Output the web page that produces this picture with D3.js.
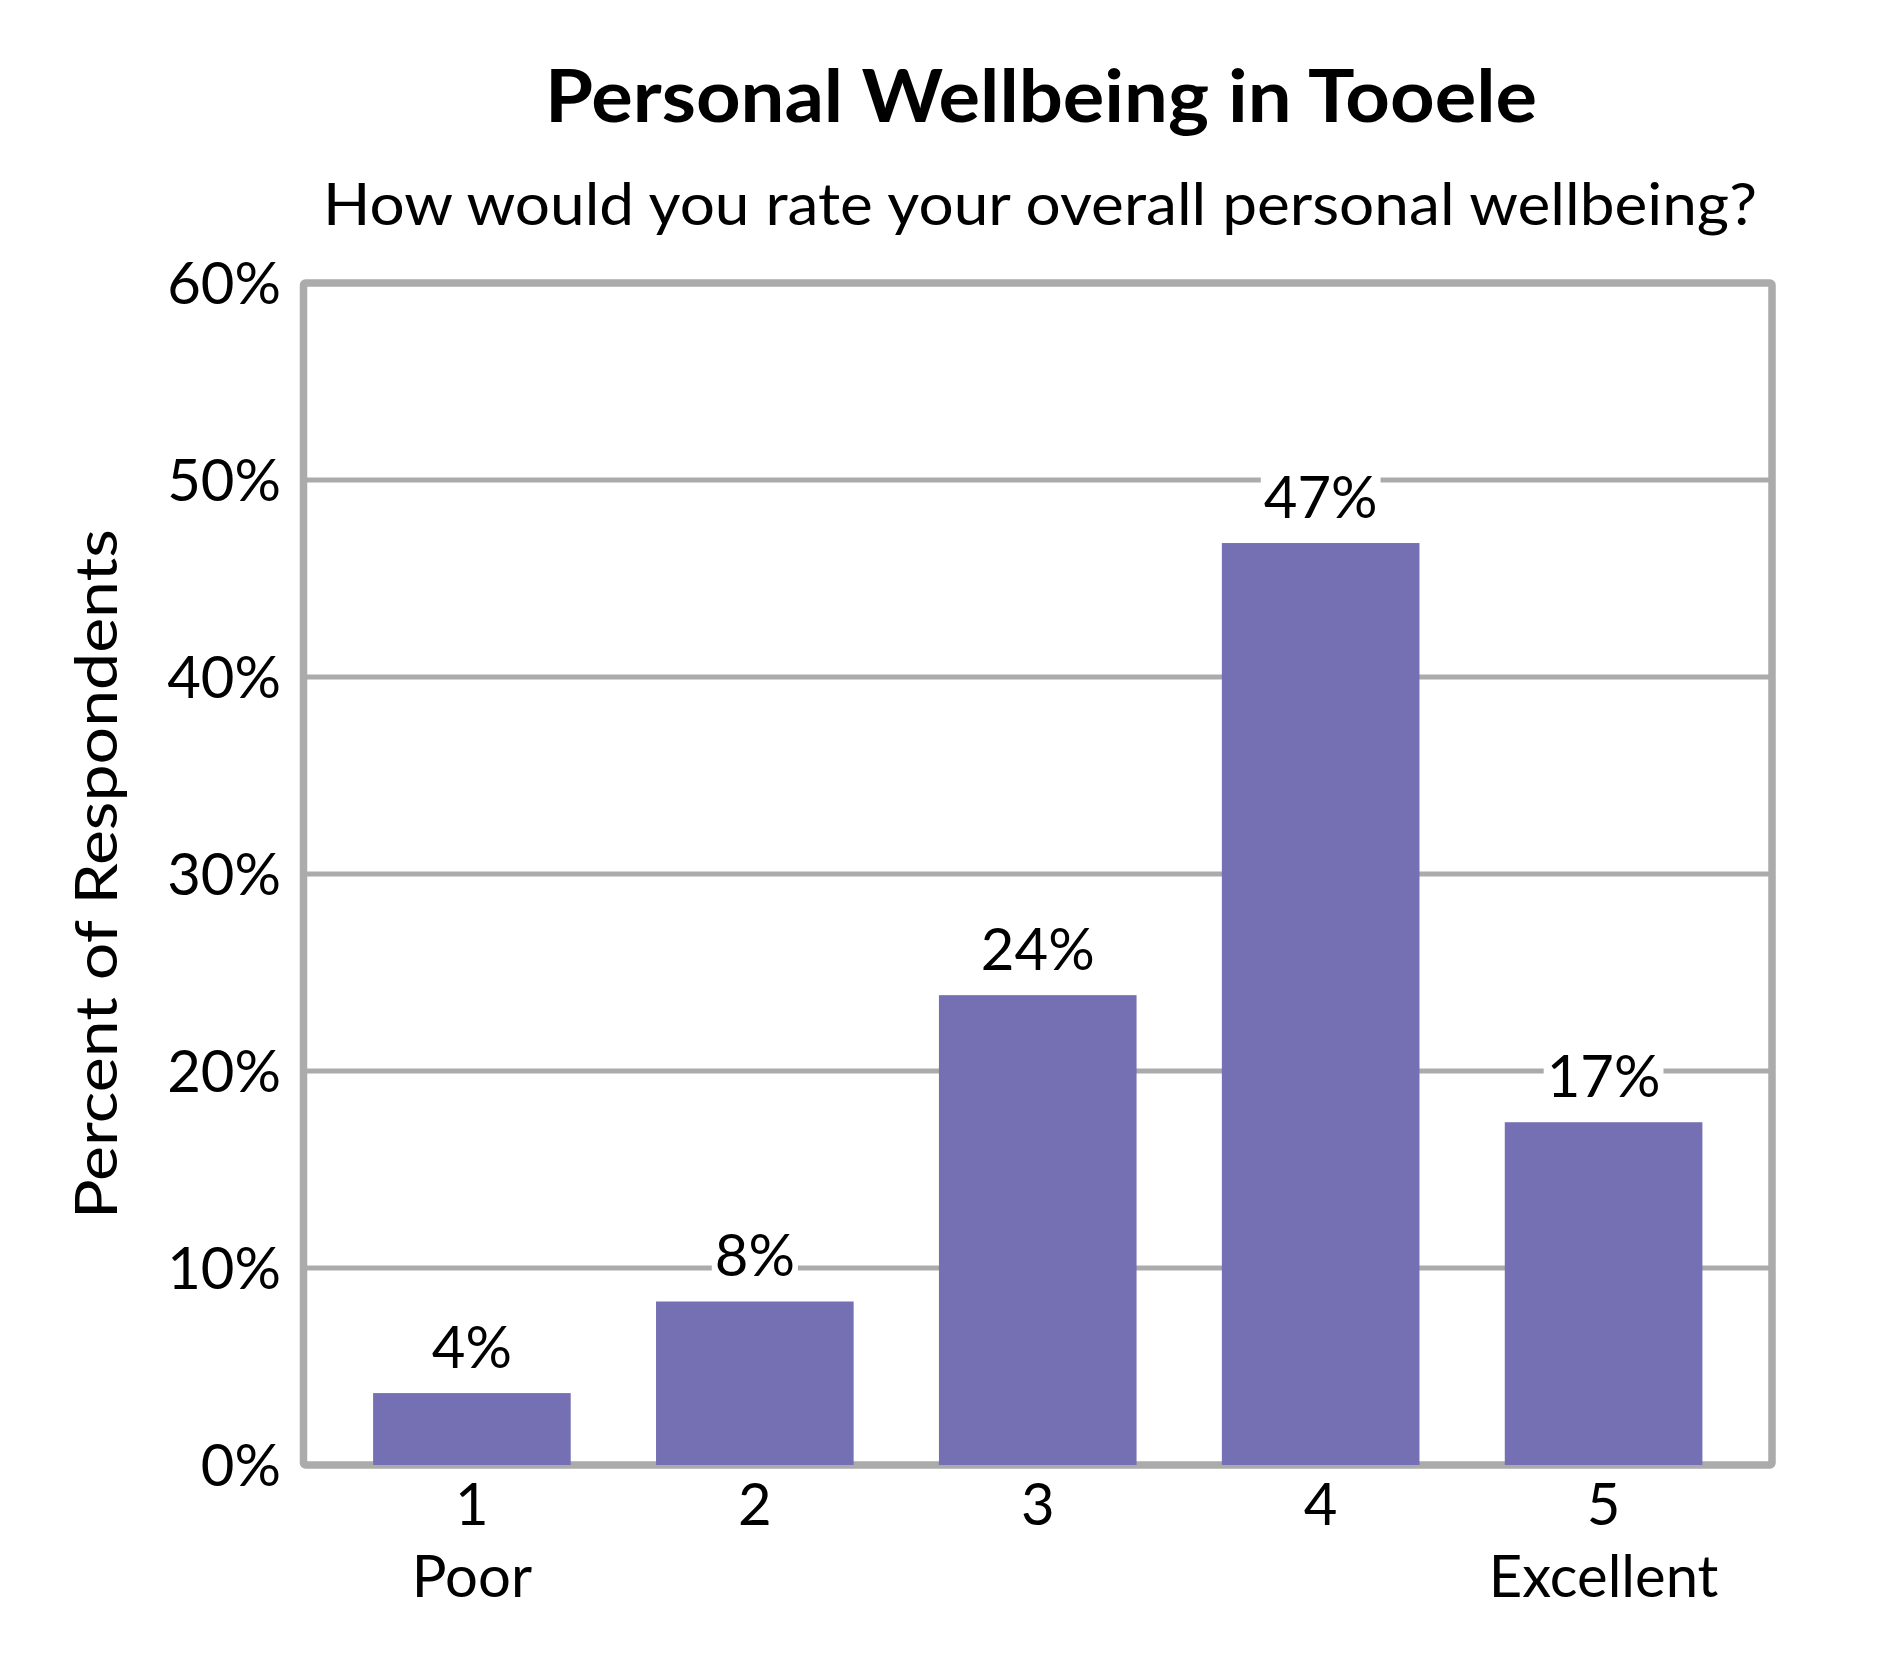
<!DOCTYPE html>
<html>
<head>
<meta charset="utf-8">
<script src="https://cdn.jsdelivr.net/npm/d3@7/dist/d3.min.js"></script>
<style>
  html, body { margin: 0; padding: 0; background: #ffffff; }
  svg { display: block; }
  text { font-family: Lato, "Open Sans", sans-serif; fill: #000; }
</style>
</head>
<body>
<svg id="chart" width="1890" height="1680"></svg>
<script>
// ---- data ----
const categories = ["1", "2", "3", "4", "5"];
const subLabels = ["Poor", "", "", "", "Excellent"];
const values = [3.65, 8.3, 23.85, 46.8, 17.4];
const yTicks = [0, 10, 20, 30, 40, 50, 60];
const titleText = "Personal Wellbeing in Tooele";
const subtitleText = "How would you rate your overall personal wellbeing?";
const yTitleText = "Percent of Respondents";

// ---- layout ----
const W = 1890, H = 1680;
const plot = { left: 303.5, right: 1772, top: 283, bottom: 1465 };
const gridColor = "#ababab";
const barColor = "#7570b3";

const svg = d3.select("#chart");
svg.append("rect").attr("width", W).attr("height", H).attr("fill", "#fff");

const x = d3.scaleBand()
  .domain(categories)
  .range([plot.left, plot.right])
  .paddingInner(0.3015)
  .paddingOuter(0.246);

const y = d3.scaleLinear().domain([0, 60]).range([plot.bottom, plot.top]);

// gridlines
svg.append("g").selectAll("line")
  .data(yTicks.filter(d => d > 0 && d < 60))
  .join("line")
  .attr("x1", plot.left).attr("x2", plot.right)
  .attr("y1", d => y(d)).attr("y2", d => y(d))
  .attr("stroke", gridColor).attr("stroke-width", 5);

// plot border
svg.append("rect")
  .attr("x", plot.left).attr("y", plot.top)
  .attr("width", plot.right - plot.left).attr("height", plot.bottom - plot.top)
  .attr("fill", "none").attr("stroke", gridColor).attr("stroke-width", 7.5)
  .attr("rx", 2).attr("stroke-linejoin", "round");

// bars
svg.append("g").selectAll("rect")
  .data(values)
  .join("rect")
  .attr("x", (d, i) => x(categories[i]))
  .attr("width", x.bandwidth())
  .attr("y", d => y(d))
  .attr("height", d => y(0) - y(d))
  .attr("fill", barColor);

// data labels with white background
const labelSize = 58;
const lg = svg.append("g");
values.forEach((v, i) => {
  const cx = x(categories[i]) + x.bandwidth() / 2;
  const by = y(v) - 25;
  const g = lg.append("g");
  const bg = g.append("rect").attr("fill", "#fff");
  const t = g.append("text")
    .attr("x", cx).attr("y", by)
    .attr("text-anchor", "middle")
    .attr("font-size", labelSize)
    .text(Math.round(v) + "%");
  const bb = t.node().getBBox();
  bg.attr("x", bb.x - 3).attr("y", bb.y + 4)
    .attr("width", bb.width + 6).attr("height", bb.height - 8);
});

// y tick labels
svg.append("g").selectAll("text")
  .data(yTicks)
  .join("text")
  .attr("x", 281)
  .attr("y", d => y(d) + 21)
  .attr("text-anchor", "end")
  .attr("font-size", labelSize)
  .text(d => d + "%");

// x tick labels
const xl = svg.append("g");
categories.forEach((c, i) => {
  const cx = x(c) + x.bandwidth() / 2;
  xl.append("text").attr("x", cx).attr("y", 1525)
    .attr("text-anchor", "middle").attr("font-size", labelSize).text(c);
  if (subLabels[i]) {
    xl.append("text").attr("x", cx).attr("y", 1597)
      .attr("text-anchor", "middle").attr("font-size", labelSize).text(subLabels[i]);
  }
});

// y axis title
svg.append("text")
  .attr("transform", `translate(117, ${(plot.top + plot.bottom) / 2}) rotate(-90)`)
  .attr("text-anchor", "middle")
  .attr("font-size", labelSize)
  .attr("textLength", 690)
  .attr("lengthAdjust", "spacingAndGlyphs")
  .text(yTitleText);

// title
svg.append("text")
  .attr("x", 1041).attr("y", 122)
  .attr("text-anchor", "middle")
  .attr("font-size", 73)
  .attr("font-weight", "bold")
  .attr("textLength", 992)
  .attr("lengthAdjust", "spacingAndGlyphs")
  .text(titleText);

// subtitle
svg.append("text")
  .attr("x", 1040).attr("y", 225)
  .attr("text-anchor", "middle")
  .attr("font-size", 59)
  .attr("textLength", 1434)
  .attr("lengthAdjust", "spacingAndGlyphs")
  .text(subtitleText);
</script>
</body>
</html>
